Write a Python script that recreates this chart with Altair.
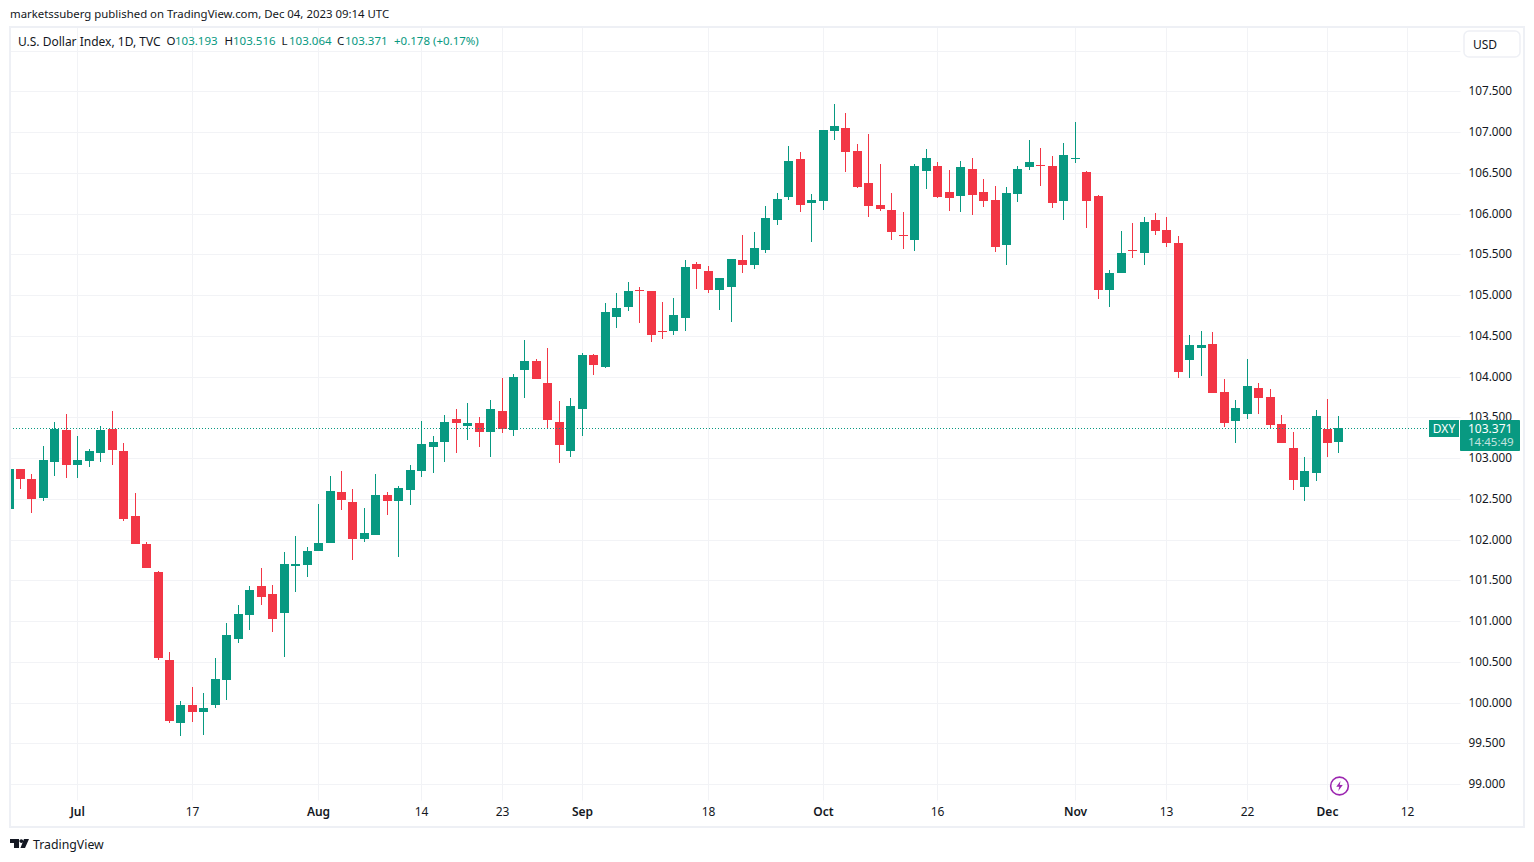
import json
import altair as alt
import pandas as pd

# Daily bars, weekdays only, Jun 23 2023 to Dec 4 2023; bar index 0 is Jul 3
first_index = -6
opens = [
    102.375, 102.866, 102.743, 102.510, 102.952, 103.345,
    102.915, 102.964, 103.062, 103.357, 103.087,
    102.289, 101.946, 101.602, 100.522, 99.749,
    99.970, 99.884, 99.970, 100.277, 100.780,
    101.075, 101.430, 101.332, 101.099, 101.676,
    101.688, 101.860, 101.958, 102.584, 102.461,
    102.007, 102.056, 102.547, 102.474, 102.608,
    102.842, 103.136, 103.197, 103.480, 103.394,
    103.431, 103.320, 103.578, 103.345, 104.081,
    104.191, 103.921, 103.443, 103.087, 103.602,
    104.264, 104.117, 104.731, 104.853, 105.062,
    105.050, 104.559, 104.559, 104.718, 105.381,
    105.295, 105.062, 105.099, 105.430, 105.369,
    105.553, 105.921, 106.203, 106.669, 106.129,
    106.154, 107.013, 107.050, 106.768, 106.378,
    106.108, 106.047, 105.740, 105.679, 106.525,
    106.587, 106.268, 106.219, 106.550, 106.268,
    106.169, 105.617, 106.243, 106.574, 106.599,
    106.587, 106.157, 106.673, 106.513, 106.219,
    105.065, 105.274, 105.556, 105.516, 105.921,
    105.798, 105.639, 104.203, 104.350, 104.399,
    103.810, 103.455, 103.540, 103.859, 103.749,
    103.418, 103.123, 102.645, 102.816, 103.356,
    103.193,
]
highs = [
    102.866, 102.866, 102.805, 103.148, 103.443, 103.541,
    103.271, 103.111, 103.394, 103.578, 103.185,
    102.571, 101.970, 101.614, 100.621, 100.019,
    100.191, 100.117, 100.547, 100.976, 101.197,
    101.430, 101.651, 101.443, 101.848, 102.044,
    101.909, 102.437, 102.780, 102.842, 102.621,
    102.388, 102.805, 102.584, 102.658, 102.915,
    103.455, 103.271, 103.529, 103.602, 103.676,
    103.504, 103.713, 103.983, 104.032, 104.449,
    104.216, 104.351, 103.701, 103.737, 104.289,
    104.277, 104.903, 105.025, 105.160, 105.099,
    105.050, 104.915, 104.964, 105.430, 105.406,
    105.356, 105.209, 105.442, 105.737, 105.774,
    106.093, 106.252, 106.829, 106.755, 106.240,
    107.025, 107.344, 107.234, 106.853, 106.979,
    106.611, 106.255, 106.022, 106.611, 106.795,
    106.636, 106.538, 106.648, 106.685, 106.427,
    106.341, 106.329, 106.587, 106.906, 106.807,
    106.709, 106.869, 107.126, 106.525, 106.231,
    105.311, 105.789, 105.887, 105.958, 106.007,
    105.958, 105.724, 104.510, 104.559, 104.547,
    103.970, 103.712, 104.215, 103.921, 103.847,
    103.528, 103.320, 103.013, 103.590, 103.725,
    103.516,
]
lows = [
    102.375, 102.621, 102.326, 102.473, 102.780, 102.756,
    102.756, 102.891, 102.952, 102.915, 102.228,
    101.946, 101.651, 100.522, 99.749, 99.590,
    99.762, 99.602, 99.933, 100.032, 100.731,
    100.891, 101.197, 100.866, 100.559, 101.357,
    101.541, 101.860, 101.958, 102.363, 101.750,
    101.970, 102.056, 102.302, 101.786, 102.424,
    102.768, 102.817, 102.952, 103.063, 103.222,
    103.136, 103.013, 103.308, 103.271, 103.737,
    103.970, 103.369, 102.940, 103.013, 103.270,
    104.019, 104.105, 104.596, 104.804, 104.657,
    104.424, 104.461, 104.510, 104.559, 105.074,
    105.025, 104.817, 104.669, 105.271, 105.320,
    105.516, 105.860, 106.166, 106.019, 105.651,
    106.044, 106.903, 106.510, 106.314, 105.961,
    106.034, 105.679, 105.568, 105.544, 106.304,
    106.194, 106.034, 106.022, 105.985, 106.084,
    105.531, 105.372, 106.145, 106.538, 106.341,
    106.071, 105.924, 106.623, 105.826, 104.955,
    104.857, 105.274, 105.458, 105.369, 105.737,
    105.590, 103.982, 103.982, 104.007, 103.798,
    103.381, 103.185, 103.479, 103.540, 103.356,
    103.185, 102.608, 102.473, 102.718, 103.011,
    103.064,
]
closes = [
    102.866, 102.743, 102.498, 102.976, 103.357, 102.915,
    102.976, 103.087, 103.345, 103.099, 102.252,
    101.946, 101.651, 100.547, 99.774, 99.970,
    99.884, 99.933, 100.289, 100.829, 101.087,
    101.381, 101.295, 101.025, 101.700, 101.700,
    101.860, 101.958, 102.596, 102.486, 102.007,
    102.081, 102.547, 102.474, 102.633, 102.854,
    103.173, 103.197, 103.443, 103.431, 103.431,
    103.320, 103.602, 103.357, 103.995, 104.191,
    103.970, 103.467, 103.161, 103.639, 104.264,
    104.142, 104.792, 104.841, 105.050, 105.050,
    104.510, 104.547, 104.755, 105.344, 105.320,
    105.062, 105.209, 105.442, 105.369, 105.577,
    105.945, 106.179, 106.645, 106.105, 106.166,
    107.025, 107.074, 106.755, 106.326, 106.096,
    106.059, 105.777, 105.728, 106.587, 106.685,
    106.206, 106.194, 106.574, 106.231, 106.157,
    105.593, 106.255, 106.550, 106.636, 106.587,
    106.133, 106.722, 106.685, 106.157, 105.065,
    105.274, 105.519, 105.544, 105.896, 105.786,
    105.639, 104.056, 104.387, 104.387, 103.798,
    103.430, 103.614, 103.884, 103.737, 103.405,
    103.185, 102.731, 102.841, 103.516, 103.185,
    103.371,
]

tick_indexes = [0, 10, 21, 30, 37, 44, 55, 65, 75, 87, 95, 102, 109, 116]
tick_labels = ["Jul", "17", "Aug", "14", "23", "Sep", "18", "Oct", "16", "Nov", "13", "22", "Dec", "12"]
month_indexes = [0, 21, 44, 65, 87, 109]
price_ticks = [99, 99.5, 100, 100.5, 101, 101.5, 102, 102.5, 103, 103.5, 104,
               104.5, 105, 105.5, 106, 106.5, 107, 107.5, 108]

GREEN = "#089981"
RED = "#F23645"
INK = "#131722"
GRID = "#f2f3f6"
BORDER = "#eef0f5"
FONT = "Noto Sans"

df = pd.DataFrame({
    "i": [first_index + k for k in range(len(closes))],
    "open": opens, "high": highs, "low": lows, "close": closes,
})
df["top"] = df[["open", "close"]].max(axis=1)
df["bot"] = df[["open", "close"]].min(axis=1)
df["dir"] = ["up" if c >= o else "down" for o, c in zip(df["open"], df["close"])]

label_map = json.dumps({str(k): v for k, v in zip(tick_indexes, tick_labels)})

x_scale = alt.Scale(domain=[-5.87, 120.60], nice=False, zero=False, round=True, padding=0)
y_scale = alt.Scale(domain=[98.804, 108.289], nice=False, zero=False, round=True)
color = alt.Color("dir:N", legend=None,
                  scale=alt.Scale(domain=["up", "down"], range=[GREEN, RED]))

x_enc = alt.X("i:Q", scale=x_scale, title=None, axis=alt.Axis(
    values=tick_indexes, labelExpr=f"{label_map}[datum.value]",
    grid=True, gridColor=GRID, gridWidth=1, domain=False, ticks=False,
    labelFont=FONT, labelFontSize=12, labelColor=INK, labelPadding=6,
    labelOverlap=False, labelFlush=False,
    labelFontWeight={"condition": {"test": f"indexof({month_indexes}, datum.value) >= 0", "value": 600},
                     "value": 400},
))
y_axis = alt.Axis(
    orient="right", values=price_ticks,
    labelExpr="datum.value >= 108 ? '' : format(datum.value, '.3f')",
    grid=True, gridColor=GRID, gridWidth=1, domain=False, ticks=False,
    labelFont=FONT, labelFontSize=11.75, labelColor=INK, labelPadding=8, labelOffset=-0.5,
    labelOverlap=False, labelFlush=False,
)

wicks = alt.Chart(df).mark_rule(strokeWidth=1, clip=True, xOffset=0.5).encode(
    x=x_enc, y=alt.Y("low:Q", scale=y_scale, title=None, axis=y_axis), y2="high:Q", color=color)
bodies = alt.Chart(df).mark_bar(size=9, clip=True, xOffset=0.5).encode(
    x=alt.X("i:Q", scale=x_scale, title=None),
    y=alt.Y("bot:Q", scale=y_scale, title=None), y2="top:Q", color=color)

last_line = alt.Chart().mark_rule(color=GREEN, strokeWidth=1, strokeDash=[1, 2], yOffset=0.5).encode(
    x=alt.value(0), x2=alt.value(1420),
    y=alt.Y(datum=closes[-1], scale=y_scale, title=None))

OX, OY = 10, 27  # page position of the plot's corner


def box(x0, y0, x1, y1, **kw):
    return alt.Chart().mark_rect(**kw).encode(
        x=alt.value(x0 - OX), x2=alt.value(x1 - OX), y=alt.value(y0 - OY), y2=alt.value(y1 - OY))


def label(text, x, y, color=INK, size=11.5, align="left", weight=400, font=FONT, opacity=1):
    return alt.Chart().mark_text(text=text, align=align, baseline="middle", font=font, fontSize=size,
                                 color=color, fontWeight=weight, opacity=opacity).encode(
        x=alt.value(x - OX), y=alt.value(y - OY))


def glyph(path, x, y, size, **kw):
    return alt.Chart().mark_point(shape=path, size=size, **kw).encode(
        x=alt.value(x - OX), y=alt.value(y - OY))


frame = box(10, 27, 1524, 827, fill="transparent", stroke=BORDER, strokeWidth=2)
usd_box = box(1464, 31, 1520, 57, fill="white", stroke=BORDER, strokeWidth=1.5, cornerRadius=5)
dxy_box = box(1429, 420, 1459, 437, fill=GREEN)
price_box = box(1460, 420, 1520, 451, fill=GREEN, cornerRadius=1)

texts = [
    label("marketssuberg published on TradingView.com, Dec 04, 2023 09:14 UTC", 10, 15, size=11.4),
    label("U.S. Dollar Index, 1D, TVC", 18, 42, size=12),
    label("O", 166.5, 42), label("103.193", 175, 42, GREEN),
    label("H", 224.5, 42), label("103.516", 233, 42, GREEN),
    label("L", 281.5, 42), label("103.064", 289, 42, GREEN),
    label("C", 337, 42), label("103.371", 345, 42, GREEN),
    label("+0.178 (+0.17%)", 394, 42, GREEN),
    label("USD", 1473, 44.5, size=12),
    label("DXY", 1444, 428.5, "white", size=12, align="center"),
    label("103.371", 1468, 428.5, "white", size=12),
    label("14:45:49", 1468, 443, "white", size=11.5, opacity=0.75),
    label("TradingView", 33, 844.5, INK, size=12.3),
]

bolt_ring = glyph("circle", 1339.5, 786, 314, filled=False, stroke="#9c27b0", strokeWidth=1.6, opacity=1)
bolt = glyph("M0.2,-1 L-0.65,0.15 L-0.05,0.15 L-0.25,1 L0.65,-0.2 L0.05,-0.2 Z",
             1339.5, 786, 100, filled=True, fill="#9c27b0", stroke="#9c27b0", strokeWidth=0, opacity=1)
logo = glyph("M-1,-0.47 L-0.05,-0.47 L-0.05,0.47 L-0.58,0.47 L-0.58,-0.05 L-1,-0.05 Z "
             "M-0.01,-0.26 A0.2,0.2 0 1 1 0.39,-0.26 A0.2,0.2 0 1 1 -0.01,-0.26 Z "
             "M0.47,-0.47 L1,-0.47 L0.58,0.47 L0.1,0.47 Z",
             19.5, 843.5, 361, filled=True, fill=INK, stroke=INK, strokeWidth=0, opacity=1)

chart = alt.layer(
    wicks, bodies, last_line, frame, usd_box, dxy_box, price_box, bolt_ring, bolt, logo, *texts
).properties(
    width=1450, height=773,
    padding={"left": 2, "top": 19, "right": 66, "bottom": 54},
    autosize=alt.AutoSizeParams(type="none"),
    background="white",
).configure_view(stroke=None)

chart.save("out.html", embed_options={"renderer": "svg", "actions": False})
